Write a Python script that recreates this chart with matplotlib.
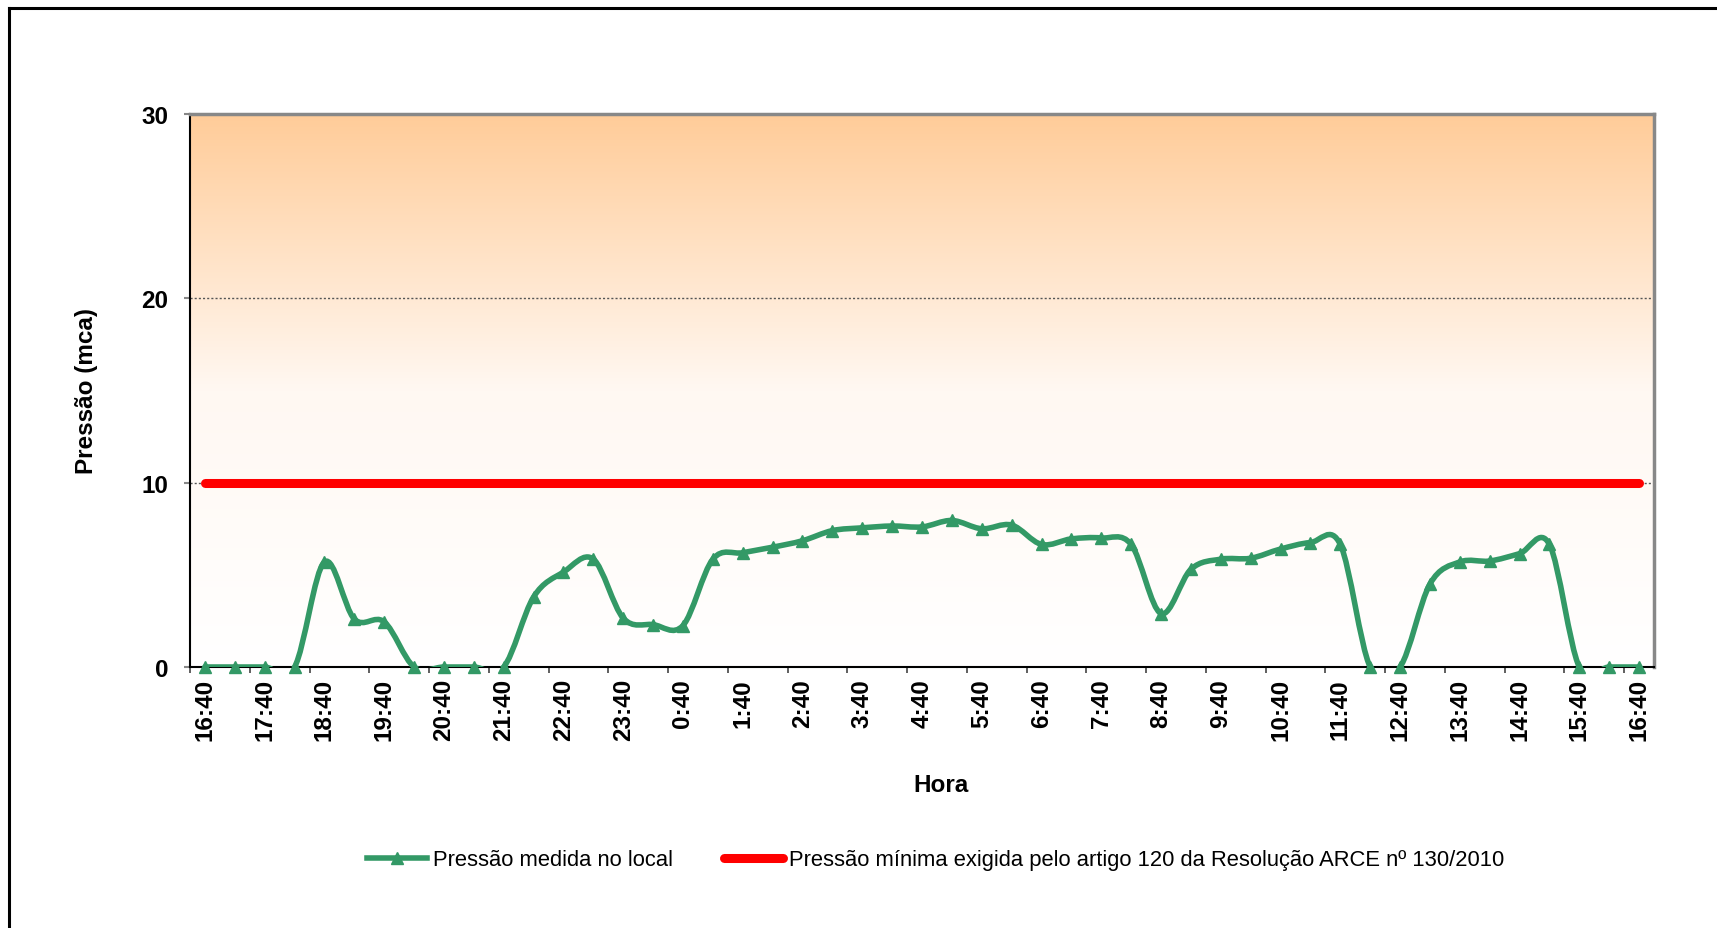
import numpy as np
import matplotlib
matplotlib.use('Agg')
import matplotlib.pyplot as plt
from matplotlib.path import Path
from matplotlib.patches import PathPatch
from matplotlib.lines import Line2D
from matplotlib.colors import LinearSegmentedColormap

plt.rcParams['font.family'] = ['Liberation Sans', 'DejaVu Sans']

# leituras a cada 30 min, de 16:40 ate 16:40 do dia seguinte
pressao = [0, 0, 0, 0, 5.7, 2.6, 2.45, 0, 0, 0, 0, 3.8, 5.15, 5.85, 2.65, 2.3, 2.25,
           5.85, 6.2, 6.5, 6.85, 7.4, 7.55, 7.65, 7.6, 7.95, 7.5, 7.7, 6.65, 6.95, 7.0, 6.65,
           2.9, 5.3, 5.85, 5.9, 6.4, 6.75, 6.65, 0, 0, 4.5, 5.7, 5.75, 6.15, 6.65, 0, 0, 0]
pressao_minima = 10

horas = ['16:40', '17:40', '18:40', '19:40', '20:40', '21:40', '22:40', '23:40',
         '0:40', '1:40', '2:40', '3:40', '4:40', '5:40', '6:40', '7:40', '8:40',
         '9:40', '10:40', '11:40', '12:40', '13:40', '14:40', '15:40', '16:40']

verde = '#339966'
vermelho = '#ff0000'


def excel_smooth(x, y):
    # curva suavizada tipo Excel (bezier catmull-rom)
    pts = np.column_stack([x, y]).astype(float)
    p = np.vstack([pts[0], pts, pts[-1]])
    verts = [tuple(pts[0])]
    codes = [Path.MOVETO]
    for i in range(len(pts) - 1):
        p0, p1, p2, p3 = p[i], p[i + 1], p[i + 2], p[i + 3]
        c1 = p1 + (p2 - p0) / 6
        c2 = p2 - (p3 - p1) / 6
        verts += [tuple(c1), tuple(c2), tuple(p2)]
        codes += [Path.CURVE4] * 3
    return Path(verts, codes)


W, H = 1717, 929
fig = plt.figure(figsize=(W / 100, H / 100), dpi=100)
ax = fig.add_axes([190 / W, 1 - 668 / H, (1654 - 190) / W, (668 - 115) / H])

x = np.arange(len(pressao))
xmin, xmax = -0.5, len(pressao) - 0.5

# fundo em degrade
cmap = LinearSegmentedColormap.from_list('fundo', ['#ffffff', '#fff8f2', '#ffcc99'])
grad = np.linspace(0, 1, 256).reshape(-1, 1)
ax.imshow(grad, extent=(xmin, xmax, 0, 30), origin='lower', aspect='auto',
          cmap=cmap, zorder=0)

for yv in [10, 20]:
    ax.axhline(yv, color='#555555', lw=1.0, ls=(0, (1.5, 1.5)), zorder=1)

ax.plot([x[0], x[-1]], [pressao_minima, pressao_minima], color=vermelho, lw=6.5,
        solid_capstyle='round', zorder=2)

ax.add_patch(PathPatch(excel_smooth(x, pressao), facecolor='none', edgecolor=verde,
                       lw=4, capstyle='round', joinstyle='round', zorder=3))
ax.plot(x, pressao, ls='none', marker='^', ms=9, color=verde, zorder=4, clip_on=False)

ax.set_xlim(xmin, xmax)
ax.set_ylim(0, 30)

fs = 17.5
ax.set_xticks(np.arange(xmin, xmax, 2))
ax.set_xticklabels([])
ax.set_xticks(np.arange(0, len(pressao), 2), minor=True)
ax.set_xticklabels(horas, minor=True, rotation=90, fontsize=fs, fontweight='bold')
ax.tick_params(axis='x', which='major', length=4.5, width=1.2, color='#444444')
ax.tick_params(axis='x', which='minor', length=0, pad=8)

ax.set_yticks([0, 10, 20, 30])
ax.set_yticklabels(['0', '10', '20', '30'], fontsize=fs, fontweight='bold')
ax.tick_params(axis='y', length=4.5, width=1.5, color='#888888', pad=11)

for s in ['top', 'right']:
    ax.spines[s].set_color('#888888')
    ax.spines[s].set_linewidth(2.5)
for s in ['left', 'bottom']:
    ax.spines[s].set_color('black')
    ax.spines[s].set_linewidth(1.5)

ax.set_xlabel('Hora', fontsize=fs, fontweight='bold', va='center')
ax.xaxis.set_label_coords((941 - 190) / (1654 - 190), -(786 - 668) / (668 - 115))
ax.set_ylabel('Pressão (mca)', fontsize=fs, fontweight='bold', va='center')
ax.yaxis.set_label_coords(-(190 - 86) / (1654 - 190), 0.5)

h1 = Line2D([], [], color=verde, lw=4, marker='^', ms=9)
h2 = Line2D([], [], color=vermelho, lw=6.5, solid_capstyle='round')
fig.legend([h1, h2], ['Pressão medida no local',
                      'Pressão mínima exigida pelo artigo 120 da Resolução ARCE nº 130/2010'],
           loc='center', bbox_to_anchor=(936 / W, 1 - 861 / H), ncol=2, frameon=False,
           fontsize=15.8, handlelength=2.7, handletextpad=0.3, columnspacing=2.3)

# moldura da figura
fig.add_artist(Line2D([9 / W, 9 / W], [0, 1 - 9 / H], transform=fig.transFigure,
                      color='black', lw=2.2))
fig.add_artist(Line2D([9 / W, 1], [1 - 9 / H, 1 - 9 / H], transform=fig.transFigure,
                      color='black', lw=2.2))

fig.savefig('out.png', dpi=100)
